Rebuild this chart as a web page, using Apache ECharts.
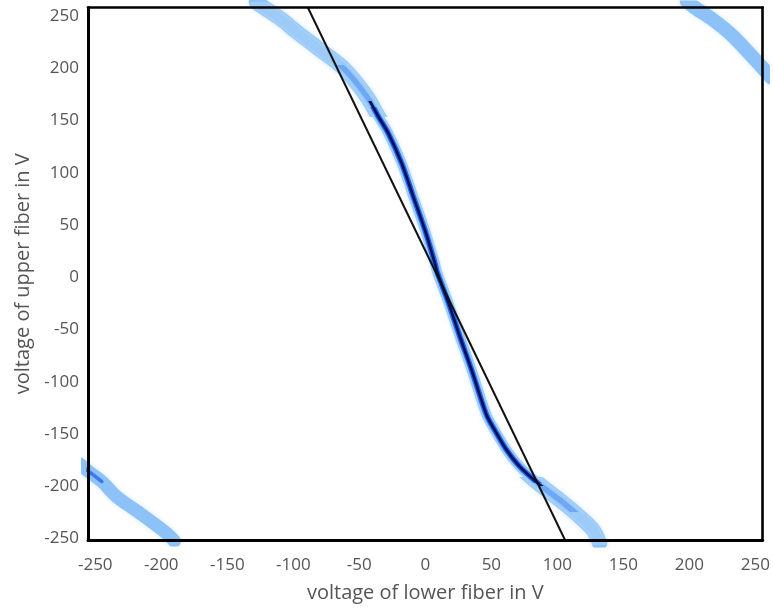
<!DOCTYPE html>
<html>
<head>
<meta charset="utf-8">
<script src="https://cdn.jsdelivr.net/npm/echarts@6/dist/echarts.min.js"></script>
<style>
html,body{margin:0;padding:0;background:#fff;}
#chart{width:773px;height:608px;}
</style>
</head>
<body>
<div id="chart"></div>
<script>
// ---- data ----
const xTicks = [-250, -200, -150, -100, -50, 0, 50, 100, 150, 200, 250];
const yTicks = [-250, -200, -150, -100, -50, 0, 50, 100, 150, 200, 250];

// main measured band (centre of the ridge)
const mainX = [-128, -122.3, -108.9, -96.5, -79.9, -63.5, -52.1, -42.8, -35.7, -28.2, -18, -9.2, -0.4, 7.2, 9.1, 17.6, 26.1, 35, 42.8, 46.9, 53.9, 61.5, 71.5, 85.4, 101.8, 116.9, 127, 132];
const mainY = [260, 255, 243.5, 230.7, 214.7, 198.7, 182.8, 166.8, 150.8, 134.9, 106.1, 74.1, 42.2, 10.2, 1, -28.1, -60.1, -92, -122.4, -136.8, -152.7, -168.7, -184.7, -200.7, -216.7, -232.7, -245.4, -258];

// wrapped parts of the band
const upperRightX = [198, 204, 217.6, 233, 255.2, 262];
const upperRightY = [261, 255, 243.5, 227.5, 197.5, 188];
const lowerLeftX = [-262, -255.5, -245, -233.8, -216.1, -195.9, -190];
const lowerLeftY = [-182, -188.9, -199, -213.5, -229.4, -248.6, -256];

// straight reference line
const fitLineX = [-89, 105.8];
const fitLineY = [255, -255];

// ---- build ----
const zip = (xs, ys) => xs.map((x, i) => [x, ys[i]]);
const mainPts = zip(mainX, mainY);
const NONE = 'rgba(140,195,247,0)';

function band(data, color, width, blur, z) {
  const ls = { width: width, cap: 'round', join: 'round',
    shadowBlur: blur || 0, shadowColor: blur ? '#d2e8ff' : 'transparent' };
  if (color) ls.color = color;
  return {
    type: 'line', data: data, smooth: 0.3, symbol: 'none', showSymbol: false,
    silent: true, clip: true, z: z, lineStyle: ls
  };
}
function vm(seriesIndex, pieces) {
  return { type: 'piecewise', show: false, dimension: 1, seriesIndex: seriesIndex, pieces: pieces };
}

const font = 'Open Sans';
const labelColor = '#555';

const axisCommon = {
  type: 'value', min: -255.5, max: 255.5,
  splitLine: { show: false }, axisTick: { show: false }, z: 10
};

const option = {
  animation: false,
  backgroundColor: '#fff',
  grid: { left: 88, top: 7.5, right: 9, bottom: 68, containLabel: false },
  xAxis: [
    Object.assign({}, axisCommon, {
      position: 'bottom',
      axisLine: { show: true, onZero: false, lineStyle: { color: '#000', width: 3 } },
      axisLabel: { customValues: xTicks, color: labelColor, fontFamily: font, fontSize: 17, margin: 17 },
      name: 'voltage of lower fiber in V', nameLocation: 'middle', nameGap: 43,
      nameTextStyle: { color: labelColor, fontFamily: font, fontSize: 20 }
    }),
    Object.assign({}, axisCommon, {
      position: 'top',
      axisLine: { show: true, onZero: false, lineStyle: { color: '#000', width: 2.6 } },
      axisLabel: { show: false }
    })
  ],
  yAxis: [
    Object.assign({}, axisCommon, {
      min: -255, max: 255,
      position: 'left',
      axisLine: { show: true, onZero: false, lineStyle: { color: '#000', width: 3 } },
      axisLabel: {
        customValues: yTicks, margin: 9,
        formatter: v => '{a|' + v + '}',
        rich: { a: { color: labelColor, fontFamily: font, fontSize: 17, padding: [7, 0, 0, 0] } }
      },
      name: 'voltage of upper fiber in V', nameLocation: 'middle', nameGap: 55, nameRotate: 90,
      nameTextStyle: { color: labelColor, fontFamily: font, fontSize: 20 }
    }),
    Object.assign({}, axisCommon, {
      min: -255, max: 255,
      position: 'right',
      axisLine: { show: true, onZero: false, lineStyle: { color: '#000', width: 2.6 } },
      axisLabel: { show: false }
    })
  ],
  visualMap: [
    vm(0, [
      { gt: 150, lte: 400, color: '#8cc2f7' },
      { gt: -195, lte: 150, color: NONE },
      { gt: -400, lte: -195, color: '#8cc2f7' }
    ]),
    vm(2, [
      { gt: 200, lte: 400, color: NONE },
      { gt: 160, lte: 200, color: '#6ea8f5' },
      { gt: -200, lte: 160, color: '#2563ee' },
      { gt: -228, lte: -200, color: '#6ea8f5' },
      { gt: -400, lte: -228, color: NONE }
    ]),
    vm(3, [
      { gt: 165, lte: 400, color: NONE },
      { gt: -203, lte: 165, color: '#03125e' },
      { gt: -400, lte: -203, color: NONE }
    ])
  ],
  series: [
    band(mainPts, null, 15, 5, 2),
    band(mainPts, '#9ccbf8', 10, 4, 2),
    band(mainPts, null, 5.5, 0, 3),
    band(mainPts, null, 2.8, 0, 4),
    band(zip(upperRightX, upperRightY), '#8cc2f7', 14, 5, 2),
    band(zip(lowerLeftX, lowerLeftY), '#8cc2f7', 13, 5, 2),
    band(zip(lowerLeftX, lowerLeftY).slice(0, 3), '#3b78ef', 3.5, 0, 3),
    {
      type: 'line', data: zip(fitLineX, fitLineY), symbol: 'none', silent: true, z: 6, clip: true,
      lineStyle: { color: '#111', width: 2 }
    }
  ]
};

const chart = echarts.init(document.getElementById('chart'), null, { renderer: 'canvas' });
chart.setOption(option);
</script>
</body>
</html>
